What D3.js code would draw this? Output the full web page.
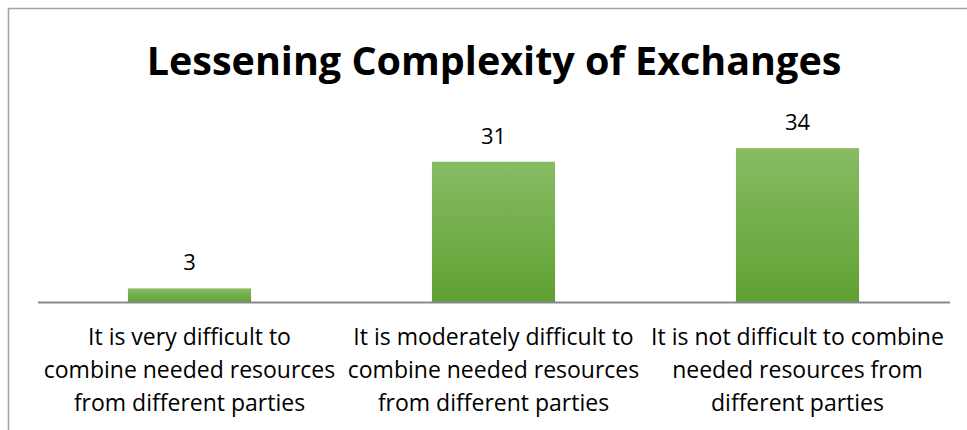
<!DOCTYPE html>
<html>
<head>
<meta charset="utf-8">
<script src="https://cdn.jsdelivr.net/npm/d3@7"></script>
<style>
  body { margin: 0; background: #fff; }
  svg { display: block; }
</style>
</head>
<body>
<div id="chart"></div>
<script>
// chart data
const chartTitle = "Lessening Complexity of Exchanges";
const categories = [
  ["It is very difficult to", "combine needed resources", "from different parties"],
  ["It is moderately difficult to", "combine needed resources", "from different parties"],
  ["It is not difficult to combine", "needed resources from", "different parties"]
];
const values = [3, 31, 34];

const width = 967;
const height = 430;
const fontFamily = "'Open Sans', 'Noto Sans', sans-serif";

const svg = d3.select("#chart")
    .append("svg")
    .attr("width", width)
    .attr("height", height);

// gradient for bars
const grad = svg.append("defs").append("linearGradient")
    .attr("id", "barGrad")
    .attr("x1", 0).attr("y1", 0)
    .attr("x2", 0).attr("y2", 1);
grad.append("stop").attr("offset", "0%").attr("stop-color", "#87bc63");
grad.append("stop").attr("offset", "100%").attr("stop-color", "#5fa133");

// outer chart border (cropped on right and bottom)
svg.append("path")
    .attr("d", `M8.5,${height} V8.5 H${width}`)
    .attr("fill", "none")
    .attr("stroke", "#a3a3a3")
    .attr("stroke-width", 1.5);

// title
svg.append("text")
    .attr("x", 494)
    .attr("y", 75)
    .attr("text-anchor", "middle")
    .style("font-family", fontFamily)
    .style("font-weight", "bold")
    .style("font-size", "39.5px")
    .attr("fill", "#000")
    .text(chartTitle);

// scales
const x = d3.scaleBand()
    .domain(d3.range(categories.length))
    .range([37.5, 949.5])
    .paddingInner(0.595)
    .paddingOuter(0.2975);

const y = d3.scaleLinear()
    .domain([0, 40])
    .range([302, 121]);

// bars
svg.selectAll(".bar")
    .data(values)
    .enter()
    .append("rect")
    .attr("class", "bar")
    .attr("x", (d, i) => x(i))
    .attr("y", d => y(d))
    .attr("width", x.bandwidth())
    .attr("height", d => y(0) - y(d))
    .attr("fill", "url(#barGrad)");

// value labels
svg.selectAll(".val")
    .data(values)
    .enter()
    .append("text")
    .attr("class", "val")
    .attr("x", (d, i) => x(i) + x.bandwidth() / 2)
    .attr("y", d => y(d) - 18)
    .attr("text-anchor", "middle")
    .style("font-family", fontFamily)
    .style("font-size", "22px")
    .attr("fill", "#000")
    .text(d => d);

// category axis
const xAxis = svg.append("g")
    .attr("transform", `translate(0,${y(0)})`)
    .call(d3.axisBottom(x).tickSize(0).tickFormat(""));
xAxis.select(".domain")
    .attr("stroke", "#898989")
    .attr("stroke-width", 2);

// wrapped category labels
const labels = svg.selectAll(".cat")
    .data(categories)
    .enter()
    .append("text")
    .attr("class", "cat")
    .attr("text-anchor", "middle")
    .style("font-family", fontFamily)
    .style("font-size", "23px")
    .attr("fill", "#000");

labels.selectAll("tspan")
    .data((d, i) => d.map(line => ({ line, i })))
    .enter()
    .append("tspan")
    .attr("x", d => x(d.i) + x.bandwidth() / 2)
    .attr("y", (d, j) => 345 + j * 33)
    .text(d => d.line);
</script>
</body>
</html>
